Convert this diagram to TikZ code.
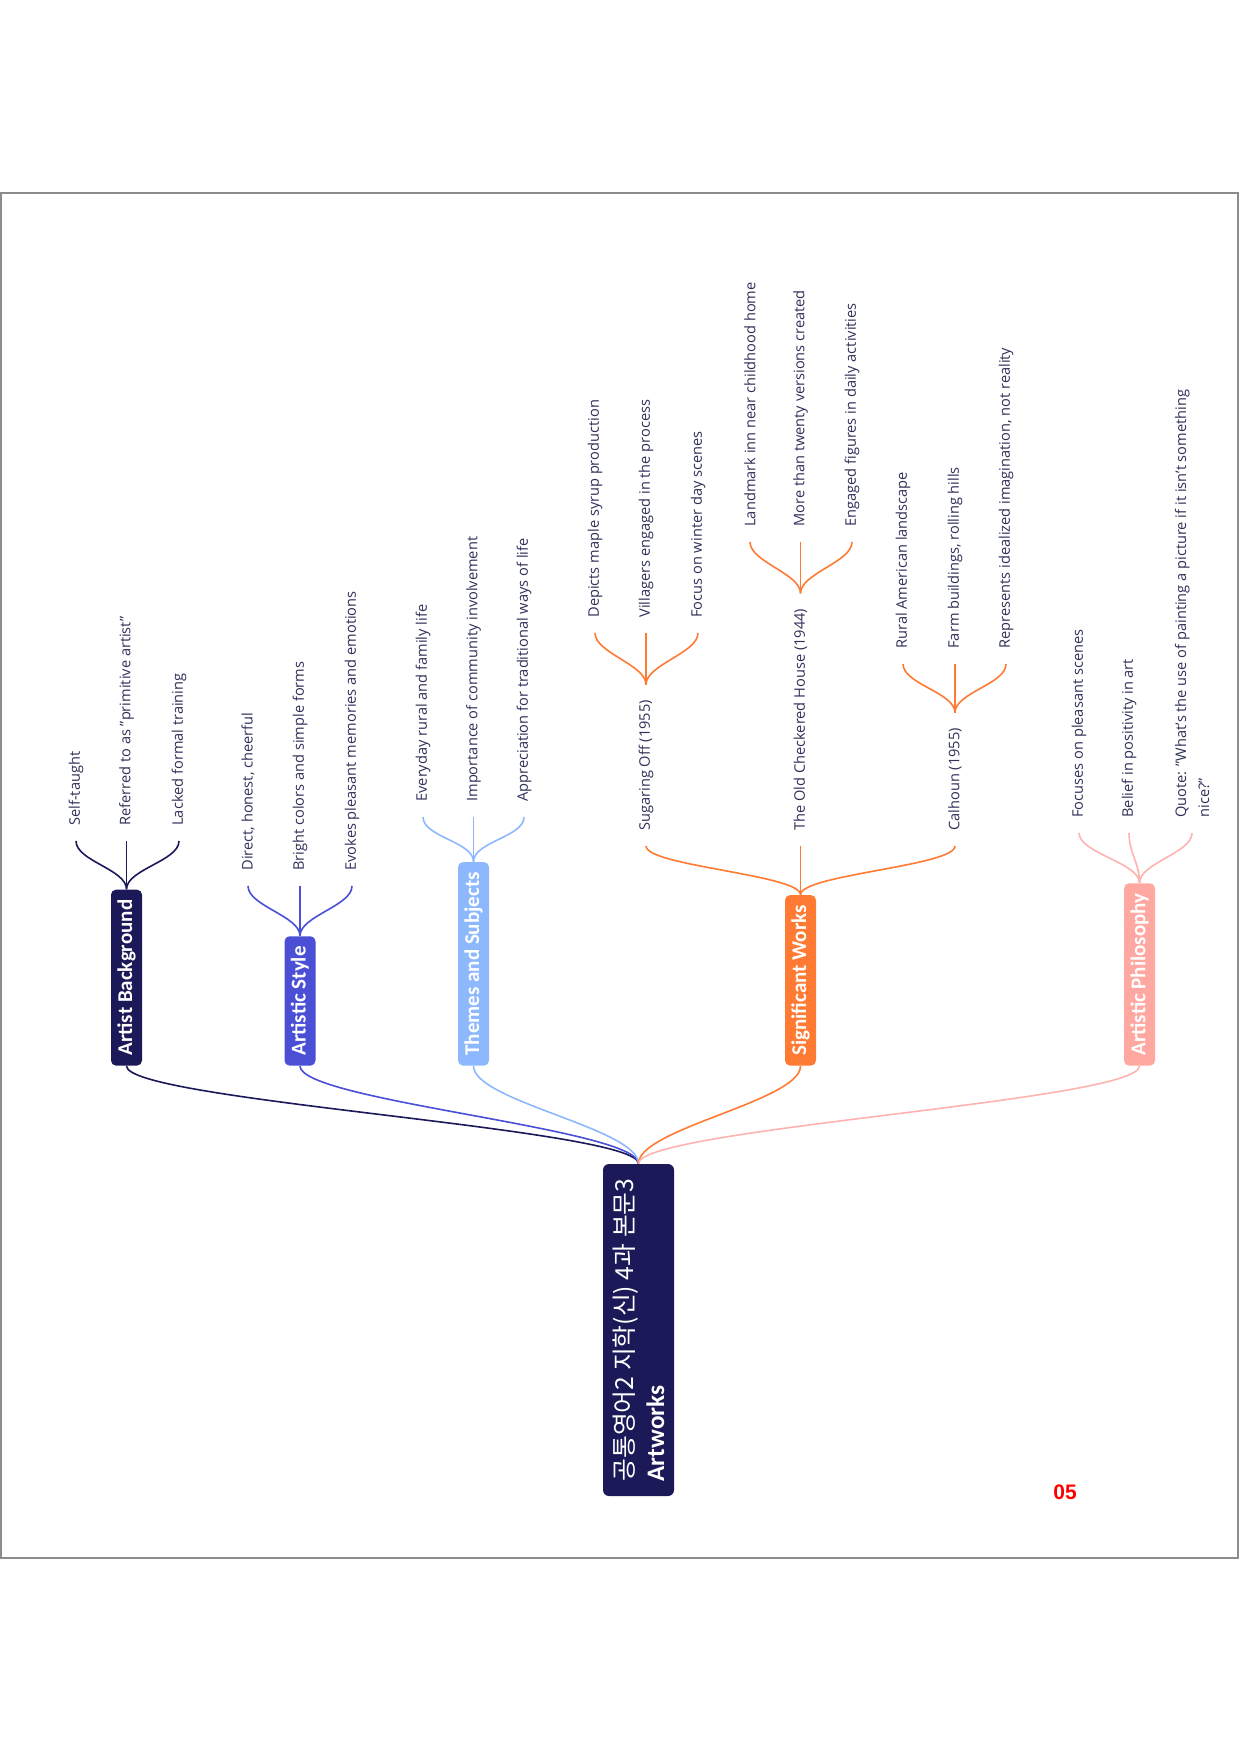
\documentclass[tikz,border=0pt]{standalone}
\usepackage{fontspec}
\setmainfont{Open Sans}
\newfontfamily\krfont{Noto Sans CJK KR}
\newfontfamily\brfont{Carlito}
\newfontfamily\numfont{Liberation Sans}
\definecolor{rootc}{HTML}{1B1957}
\definecolor{asc}{HTML}{4A4FD6}
\definecolor{tsc}{HTML}{8DB8FD}
\definecolor{swc}{HTML}{FF7A32}
\definecolor{apc}{HTML}{FFA8A2}
\definecolor{aplc}{HTML}{FFB3AE}
\definecolor{leafc}{HTML}{2E3058}
\definecolor{framec}{HTML}{8C8C8C}
\tikzset{
  leaf/.style={rotate=90, anchor=west, text=leafc, inner xsep=7.5pt, inner ysep=1pt,
    font=\fontsize{7.3}{11.5}\selectfont},
  branch/.style={rotate=90, anchor=west, fill=#1, text=white, rounded corners=2.5pt,
    minimum height=15.5pt, inner xsep=5pt, inner ysep=0pt,
    font=\brfont\bfseries\fontsize{10.5}{12}\selectfont},
  rootbox/.style={rotate=90, fill=rootc, text=white, rounded corners=3pt,
    minimum width=166pt, minimum height=35.5pt, inner sep=0pt, align=left,
    font=\krfont\fontsize{12.4}{15.5}\selectfont},
  conn/.style={draw=#1, line width=0.8pt},
}
\begin{document}
\begin{tikzpicture}[x=0.5pt,y=-0.5pt]
\useasboundingbox (0,0) rectangle (1240,1754);
\draw[framec, line width=0.7pt] (1,193) rectangle (1238,1558);

% root
\node[rootbox] (root) at (638.5,1330) {공통영어2 지학(신) 4과 본문3\\{\brfont\bfseries\fontsize{12.6}{15.5}\selectfont Artworks}};

% branches
\node[branch=rootc] (ab) at (126.5,1066) {Artist Background};
\node[branch=asc] (as) at (300,1066) {Artistic Style};
\node[branch=tsc] (ts) at (473.5,1066) {Themes and Subjects};
\node[branch=swc] (sw) at (800.5,1066) {Significant Works};
\node[branch=apc] (ap) at (1139.5,1066) {Artistic Philosophy};

% leaves
\node[leaf] (ab1) at (76,841) {Self-taught};
\node[leaf] (ab2) at (126.5,841) {Referred to as "primitive artist"};
\node[leaf] (ab3) at (179,841) {Lacked formal training};

\node[leaf] (as1) at (248,886) {Direct, honest, cheerful};
\node[leaf] (as2) at (300,886) {Bright colors and simple forms};
\node[leaf] (as3) at (352,886) {Evokes pleasant memories and emotions};

\node[leaf] (ts1) at (423,817) {Everyday rural and family life};
\node[leaf] (ts2) at (473.5,817) {Importance of community involvement};
\node[leaf] (ts3) at (524,817) {Appreciation for traditional ways of life};

\node[leaf] (sw1) at (646,846) {Sugaring Off (1955)};
\node[leaf] (sw2) at (800.5,846) {The Old Checkered House (1944)};
\node[leaf] (sw3) at (955,846) {Calhoun (1955)};

\node[leaf] (sw11) at (595,633) {Depicts maple syrup production};
\node[leaf] (sw12) at (646,633) {Villagers engaged in the process};
\node[leaf] (sw13) at (698,633) {Focus on winter day scenes};

\node[leaf] (sw21) at (750,542) {Landmark inn near childhood home};
\node[leaf] (sw22) at (800.5,542) {More than twenty versions created};
\node[leaf] (sw23) at (852,542) {Engaged figures in daily activities};

\node[leaf] (sw31) at (903,664) {Rural American landscape};
\node[leaf] (sw32) at (955,664) {Farm buildings, rolling hills};
\node[leaf] (sw33) at (1006,664) {Represents idealized imagination, not reality};

\node[leaf] (ap1) at (1079,833) {Focuses on pleasant scenes};
\node[leaf] (ap2) at (1129,833) {Belief in positivity in art};
\node[leaf, align=left] (ap3) at (1192,833) {Quote: "What's the use of painting a picture if it isn't something\\nice?"};

% root to branches
\foreach \b/\c in {ab/rootc, as/asc, ts/tsc, sw/swc, ap/aplc}
  \draw[conn=\c] (root.east) .. controls +(0,-35) and +(0,35) .. (\b.west);

% fans
\foreach \p/\c/\k in {ab/rootc/ab1, ab/rootc/ab2, ab/rootc/ab3,
                     as/asc/as1, as/asc/as2, as/asc/as3,
                     ts/tsc/ts1, ts/tsc/ts2, ts/tsc/ts3,
                     sw/swc/sw1, sw/swc/sw2, sw/swc/sw3,
                     sw1/swc/sw11, sw1/swc/sw12, sw1/swc/sw13,
                     sw2/swc/sw21, sw2/swc/sw22, sw2/swc/sw23,
                     sw3/swc/sw31, sw3/swc/sw32, sw3/swc/sw33,
                     ap/aplc/ap1, ap/aplc/ap2, ap/aplc/ap3}
  \draw[conn=\c] (\p.east) .. controls +(0,-20) and +(0,20) .. (\k.west);

% page number
\node[text=red, font=\numfont\bfseries\fontsize{10.5}{12}\selectfont, inner sep=0pt] (pg) at (1065,1492) {05};
\end{tikzpicture}
\end{document}
